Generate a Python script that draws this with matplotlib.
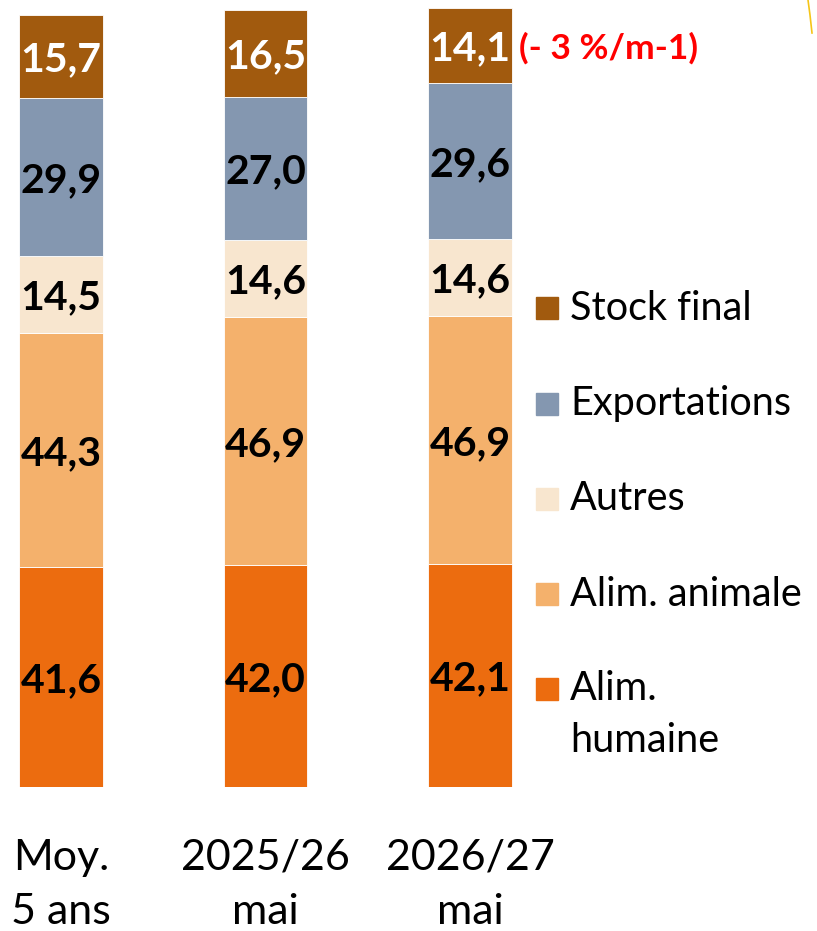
import numpy as np
import matplotlib
matplotlib.use("Agg")
import matplotlib.pyplot as plt
from matplotlib.patches import Rectangle
from matplotlib.lines import Line2D

plt.rcParams['font.family'] = ['Lato', 'DejaVu Sans']

categories = ["Moy.\n5 ans", "2025/26\nmai", "2026/27\nmai"]
series = ["Alim.\nhumaine", "Alim. animale", "Autres", "Exportations", "Stock final"]
alim_humaine = [41.6, 42.0, 42.1]
alim_animale = [44.3, 46.9, 46.9]
autres = [14.5, 14.6, 14.6]
exportations = [29.9, 27.0, 29.6]
stock_final = [15.7, 16.5, 14.1]
note = "(- 3 %/m-1)"

values = [alim_humaine, alim_animale, autres, exportations, stock_final]
colors = ["#EC6C0F", "#F4B16C", "#F8E6CF", "#8497B0", "#A15A0E"]
text_colors = ["black", "black", "black", "black", "white"]

W, H = 817, 931
fig = plt.figure(figsize=(W / 100, H / 100), dpi=100)
ax = fig.add_axes([0, 1 - 787 / H, 1, 779 / H])

x = np.arange(len(categories))
bottom = np.zeros(len(categories))
for vals, col, tc in zip(values, colors, text_colors):
    vals = np.array(vals)
    ax.bar(x, vals, bottom=bottom, width=0.41, color=col,
           edgecolor="white", linewidth=0.6)
    for xi, b, v in zip(x, bottom, vals):
        ax.text(xi, b + v / 2, f"{v:.1f}".replace(".", ","), ha="center",
                va="center_baseline", fontsize=29.5, fontweight="bold", color=tc)
    bottom += vals

# note next to last stock segment
ax.text(x[-1] + 0.24, bottom[-1] - stock_final[-1] / 2, note, ha="left",
        va="center_baseline", fontsize=25.5, fontweight="bold", color="#FF0000")

ax.set_xlim(-61 / 204.5, (W - 61) / 204.5)
ax.set_ylim(0, bottom.max())
ax.axis("off")

# category labels, one line at a time
for xi, cat in zip(x, categories):
    l1, l2 = cat.split("\n")
    xf = (61 + 204.5 * xi) / W
    fig.text(xf, 1 - 858 / H, l1, ha="center", va="center", fontsize=31)
    fig.text(xf, 1 - 912 / H, l2, ha="center", va="center", fontsize=31)

# legend, drawn by hand
leg_y = [308, 404, 499, 594, 689]
for lab, col, yy in zip(series[::-1], colors[::-1], leg_y):
    fig.patches.append(Rectangle((536 / W, 1 - (yy + 11) / H), 22 / W, 22 / H,
                                 transform=fig.transFigure, color=col))
    fig.text(570 / W, 1 - yy / H, lab.split("\n")[0], ha="left", va="center",
             fontsize=28.5)
    if "\n" in lab:
        fig.text(570 / W, 1 - (yy + 51) / H, lab.split("\n")[1], ha="left",
                 va="center", fontsize=28.5)

# stray yellow stroke top-right
fig.lines.append(Line2D([808 / W, 810 / W, 812 / W], [1, 1 - 15 / H, 1 - 33 / H],
                        transform=fig.transFigure, color="#F5C518", lw=1.2))

fig.savefig("out.png", dpi=100)
